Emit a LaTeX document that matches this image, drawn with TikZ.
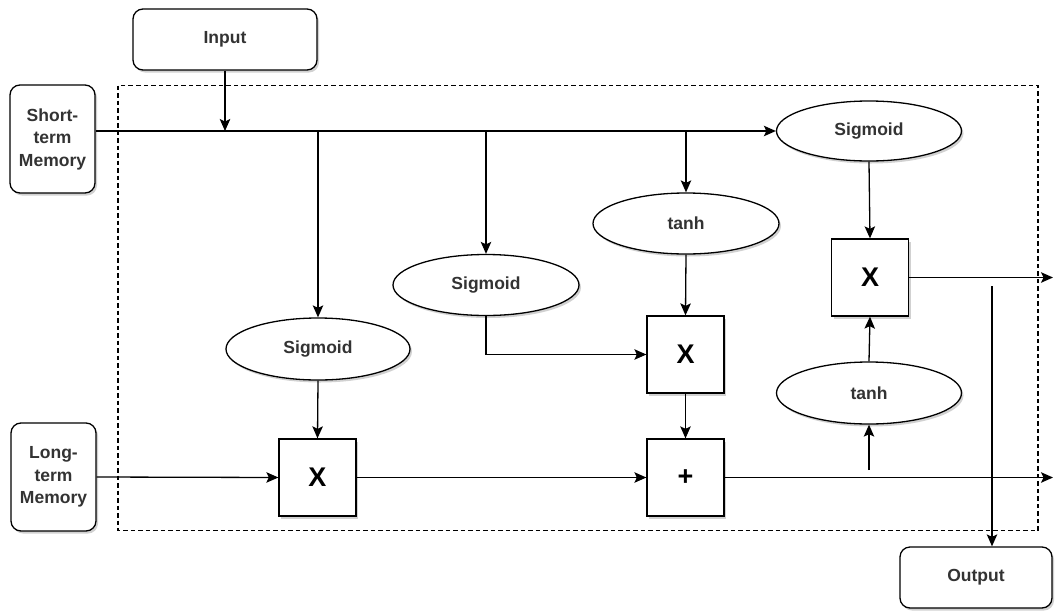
\documentclass[tikz,border=0pt]{standalone}
\usepackage{fontspec}
\setmainfont{Liberation Sans}
\usetikzlibrary{arrows.meta,shapes.geometric,shadows}
\begin{document}
\begin{tikzpicture}[x=1pt,y=-1pt,
  line width=1.3pt,
  txt/.style={text=black!80, font=\fontsize{17.5}{22.5}\selectfont\bfseries},
  shade/.style={drop shadow={shadow xshift=2pt,shadow yshift=-2.5pt,opacity=0.18,fill=black}},
  roundbox/.style={txt, draw, fill=white, rounded corners=10pt, shade, align=center, inner sep=0pt},
  gate/.style={txt, draw, fill=white, shape=ellipse, inner sep=0pt, shade},
  opbox/.style={draw, fill=white, minimum width=77pt, minimum height=77pt, inner sep=0pt,
    font=\fontsize{27}{30}\selectfont\bfseries, shade},
  arr/.style={-{Stealth[length=12pt,width=10.5pt,inset=2.5pt]}},
  frame/.style={draw, dash pattern=on 4.5pt off 3pt, line width=1.1pt}
]
\useasboundingbox (0,0) rectangle (1061,611);

% outer dashed cell boundary
\draw[frame] (118,85.5) rectangle (1038,530.5);

% inputs and output
\node[roundbox, minimum width=184pt, minimum height=61pt] (input) at (225,39.5) {Input};
\node[roundbox, minimum width=85pt, minimum height=108pt] (stm) at (52.5,139) {Short-\\term\\Memory};
\node[roundbox, minimum width=85pt, minimum height=108pt] (ltm) at (53.5,477) {Long-\\term\\Memory};
\node[roundbox, minimum width=152pt, minimum height=61pt] (output) at (976,577.5) {Output};

% activation gates
\node[gate, minimum width=184pt, minimum height=62pt] (sig1) at (318,349) {Sigmoid};
\node[gate, minimum width=186pt, minimum height=61pt] (sig2) at (486,285) {Sigmoid};
\node[gate, minimum width=186pt, minimum height=61pt] (tanh1) at (686,223.5) {tanh};
\node[gate, minimum width=185pt, minimum height=60pt] (sig3) at (869,131) {Sigmoid};
\node[gate, minimum width=185pt, minimum height=62pt] (tanh2) at (869,393) {tanh};

% pointwise operations
\node[opbox] (mul1) at (317.5,477.5) {X};
\node[opbox] (mul2) at (685.5,354.5) {X};
\node[opbox] (add) at (685.5,477.5) {+};
\node[opbox] (mul3) at (870,277.5) {X};

% free line ends
\coordinate (stout) at (1053,277.5);
\coordinate (ltout) at (1053,477.5);
\coordinate (tap) at (869,470);
\coordinate (otap) at (992,286);

% short-term memory bus
\draw[arr] (stm.east |- sig3.west) -- (sig3.west);
\draw[arr] (input.south) -- (input.south |- sig3.west);
\draw[arr] (sig1.north |- sig3.west) -- (sig1.north);
\draw[arr] (sig2.north |- sig3.west) -- (sig2.north);
\draw[arr] (tanh1.north |- sig3.west) -- (tanh1.north);

% gate outputs
\draw[arr] (sig1.south) -- (mul1.north);
\draw[arr] (sig2.south) |- (mul2.west);
\draw[arr] (tanh1.south) -- (mul2.north);
\draw[arr] (mul2.south) -- (add.north);
\draw[arr] (sig3.south) -- (mul3.north);
\draw[arr] (tanh2.north) -- (mul3.south);
\draw[arr] (tap) -- (tanh2.south);

% long-term memory path
\draw[arr] (ltm.east) -- (mul1.west);
\draw[arr] (mul1.east) -- (add.west);
\draw[arr] (add.east) -- (ltout);

% new short-term memory and output
\draw[arr] (mul3.east) -- (stout);
\draw[arr] (otap) -- (otap |- output.north);
\end{tikzpicture}
\end{document}
